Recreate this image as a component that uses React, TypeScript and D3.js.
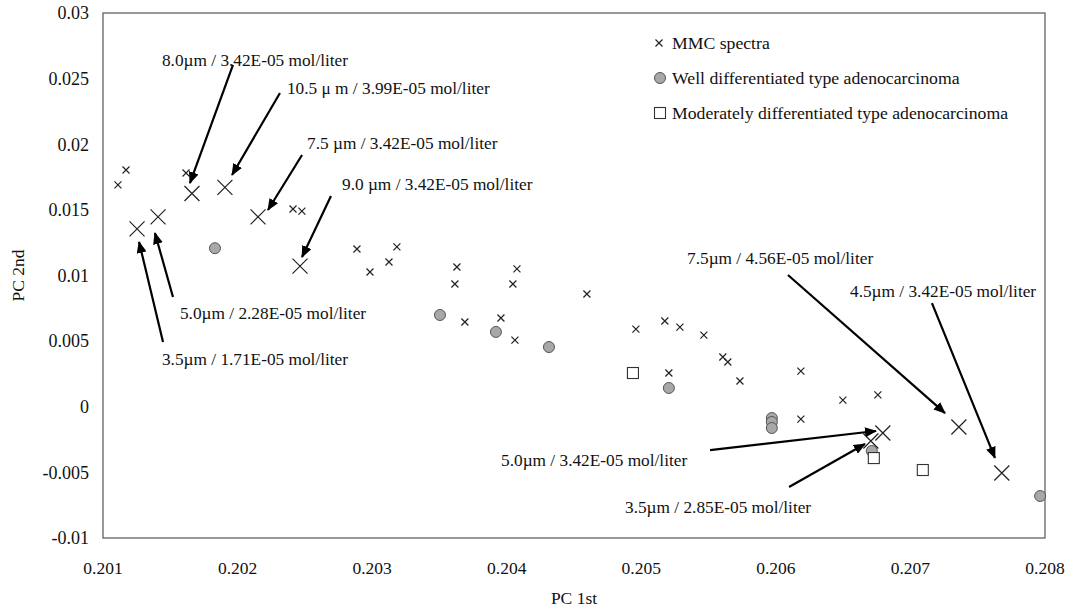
import React from 'react';
import * as d3 from 'd3';

const WIDTH = 1069;
const HEIGHT = 611;
const MARGIN = { top: 13, right: 24, bottom: 73, left: 103 };
const FONT = "'Liberation Serif', Tinos, 'Times New Roman', 'DejaVu Serif', serif";

// PC1 / PC2 scores
const mmcSpectra: [number, number][] = [
    [0.201111, 0.0169], [0.201171, 0.01804], [0.201617, 0.01781],
    [0.202412, 0.01507], [0.202478, 0.01491], [0.202887, 0.01202],
    [0.203184, 0.01218], [0.203125, 0.01103], [0.202984, 0.01027],
    [0.20363, 0.01065], [0.204076, 0.0105], [0.203615, 0.00935],
    [0.204046, 0.00935], [0.204596, 0.00859], [0.203689, 0.00646],
    [0.203957, 0.00676], [0.204061, 0.00508], [0.20496, 0.00592],
    [0.205175, 0.00653], [0.205287, 0.00607], [0.205465, 0.00546],
    [0.205606, 0.00379], [0.205643, 0.00341], [0.205733, 0.00196],
    [0.205205, 0.00257], [0.206186, 0.00272], [0.206186, -0.00094],
    [0.206498, 0.00051], [0.206758, 0.0009],
];

const mmcHighlighted: [number, number][] = [
    [0.201253, 0.01355], [0.201409, 0.01447], [0.201661, 0.01625],
    [0.201906, 0.01671], [0.202152, 0.01447], [0.202464, 0.01072],
    [0.206795, -0.002], [0.206706, -0.00261], [0.20736, -0.00154],
    [0.207679, -0.00505],
];

const wellDiff: [number, number][] = [
    [0.201832, 0.01208], [0.203504, 0.00699], [0.20392, 0.0057],
    [0.204314, 0.00455], [0.205205, 0.00143], [0.20597, -0.00086],
    [0.20597, -0.00116], [0.20597, -0.00162], [0.206713, -0.00337],
    [0.207964, -0.0068],
];

const moderatelyDiff: [number, number][] = [
    [0.204938, 0.00257], [0.206728, -0.00391], [0.207092, -0.00482],
];

// label text, label anchor [x, y], arrow tail, arrow head
const annotations: { text: string; at: [number, number]; from: [number, number]; to: [number, number] }[] = [
    { text: '8.0\u00b5m / 3.42E-05 mol/liter', at: [0.201438, 0.02642], from: [0.201966, 0.02604], to: [0.201646, 0.01704] },
    { text: '10.5 \u03bc m / 3.99E-05 mol/liter', at: [0.202367, 0.02428], from: [0.202315, 0.0239], to: [0.201959, 0.01766] },
    { text: '7.5 \u00b5m / 3.42E-05 mol/liter', at: [0.202516, 0.0201], from: [0.202479, 0.01918], to: [0.202226, 0.01499] },
    { text: '9.0 \u00b5m / 3.42E-05 mol/liter', at: [0.202776, 0.01697], from: [0.202694, 0.01605], to: [0.202479, 0.01141] },
    { text: '5.0\u00b5m / 2.28E-05 mol/liter', at: [0.201572, 0.00714], from: [0.20152, 0.00836], to: [0.201386, 0.01324] },
    { text: '3.5\u00b5m / 1.71E-05 mol/liter', at: [0.201438, 0.00364], from: [0.201446, 0.00494], to: [0.201268, 0.01256] },
    { text: '7.5\u00b5m / 4.56E-05 mol/liter', at: [0.20534, 0.01133], from: [0.20609, 0.01004], to: [0.207257, -0.00048] },
    { text: '4.5\u00b5m / 3.42E-05 mol/liter', at: [0.206551, 0.00882], from: [0.20716, 0.0079], to: [0.207628, -0.0039] },
    { text: '5.0\u00b5m / 3.42E-05 mol/liter', at: [0.203958, -0.00406], from: [0.205511, -0.0033], to: [0.206744, -0.00185] },
    { text: '3.5\u00b5m / 2.85E-05 mol/liter', at: [0.204879, -0.00764], from: [0.206098, -0.00611], to: [0.206662, -0.00284] },
];

const xTicks = [0.201, 0.202, 0.203, 0.204, 0.205, 0.206, 0.207, 0.208];
const yTicks = [-0.01, -0.005, 0, 0.005, 0.01, 0.015, 0.02, 0.025, 0.03];
const legendItems = ['MMC spectra', 'Well differentiated type adenocarcinoma', 'Moderately differentiated type adenocarcinoma'];

function Cross({ x, y, r, w }: { x: number; y: number; r: number; w: number }) {
    return (
        <path
            d={`M${x - r},${y - r}L${x + r},${y + r}M${x - r},${y + r}L${x + r},${y - r}`}
            stroke="#222"
            strokeWidth={w}
            fill="none"
        />
    );
}

export default function App() {
    const xScale = d3.scaleLinear().domain([0.201, 0.208]).range([MARGIN.left, WIDTH - MARGIN.right]);
    const yScale = d3.scaleLinear().domain([-0.01, 0.03]).range([HEIGHT - MARGIN.bottom, MARGIN.top]);

    const left = MARGIN.left;
    const right = WIDTH - MARGIN.right;
    const top = MARGIN.top;
    const bottom = HEIGHT - MARGIN.bottom;

    return (
        <svg
            width={WIDTH}
            height={HEIGHT}
            style={{ position: 'absolute', left: 0, top: 0, background: '#fff', fontFamily: FONT }}
        >
            <defs>
                <marker id="head" viewBox="0 0 12 10" refX="11" refY="5" markerWidth="12" markerHeight="10" markerUnits="userSpaceOnUse" orient="auto">
                    <path d="M0,0L12,5L0,10Z" fill="#000" />
                </marker>
            </defs>

            <rect x={left} y={top} width={right - left} height={bottom - top} fill="none" stroke="#555" strokeWidth={1.2} />

            {xTicks.map((t) => (
                <text key={t} x={xScale(t)} y={bottom + 36} textAnchor="middle" fontSize={17.5} fill="#111">
                    {d3.format('.3f')(t)}
                </text>
            ))}
            {yTicks.map((t) => (
                <text key={t} x={left - 14} y={yScale(t)} dy="0.35em" textAnchor="end" fontSize={18} fill="#111">
                    {t === 0 ? '0' : String(+t.toFixed(3))}
                </text>
            ))}

            <text x={(left + right) / 2} y={604} textAnchor="middle" fontSize={17.5} fill="#111">PC 1st</text>
            <text transform={`translate(24,${(top + bottom) / 2}) rotate(-90)`} textAnchor="middle" fontSize={17.5} fill="#111">PC 2nd</text>

            {mmcSpectra.map((d, i) => (
                <Cross key={'s' + i} x={xScale(d[0])} y={yScale(d[1])} r={3.5} w={1.2} />
            ))}
            {wellDiff.map((d, i) => (
                <circle key={'w' + i} cx={xScale(d[0])} cy={yScale(d[1])} r={5.5} fill="#a8a8a8" stroke="#555" strokeWidth={1} />
            ))}
            {moderatelyDiff.map((d, i) => (
                <rect key={'m' + i} x={xScale(d[0]) - 5.5} y={yScale(d[1]) - 5.5} width={11} height={11} fill="#fff" stroke="#333" strokeWidth={1.1} />
            ))}
            {mmcHighlighted.map((d, i) => (
                <Cross key={'h' + i} x={xScale(d[0])} y={yScale(d[1])} r={7.5} w={1.2} />
            ))}

            {annotations.map((a, i) => (
                <g key={'a' + i}>
                    <line
                        x1={xScale(a.from[0])}
                        y1={yScale(a.from[1])}
                        x2={xScale(a.to[0])}
                        y2={yScale(a.to[1])}
                        stroke="#000"
                        strokeWidth={2.2}
                        markerEnd="url(#head)"
                    />
                    <text x={xScale(a.at[0])} y={yScale(a.at[1])} dy="0.35em" fontSize={17.3} fill="#111">
                        {a.text}
                    </text>
                </g>
            ))}

            {legendItems.map((label, i) => {
                const ly = 43 + i * 35;
                return (
                    <g key={label}>
                        {i === 0 && <Cross x={659} y={ly} r={3.5} w={1.2} />}
                        {i === 1 && <circle cx={660} cy={ly} r={5.5} fill="#a8a8a8" stroke="#555" strokeWidth={1} />}
                        {i === 2 && <rect x={654.5} y={ly - 5.5} width={11} height={11} fill="#fff" stroke="#333" strokeWidth={1.1} />}
                        <text x={672} y={ly} dy="0.35em" fontSize={17.7} fill="#111">{label}</text>
                    </g>
                );
            })}
        </svg>
    );
}
